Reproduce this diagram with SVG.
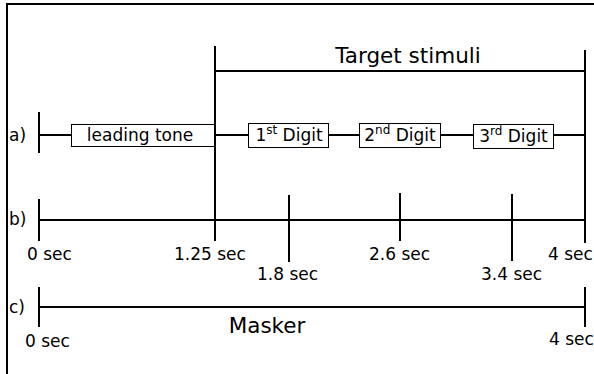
<svg xmlns="http://www.w3.org/2000/svg" width="594" height="374" viewBox="0 0 594 374">
  <style>
    text { font-family: "DejaVu Sans", Verdana, sans-serif; fill: #000; }
    .lbl { font-size: 17px; }
    .big { font-size: 21.5px; }
    .sup { font-size: 12px; }
    .ln { stroke: #000; stroke-width: 2; fill: none; }
    .box { fill: #fff; stroke: #000; stroke-width: 1; }
  </style>
  <rect width="594" height="374" fill="#fff"/>
  <!-- frame (open to the right and bottom) -->
  <rect x="7" y="4" width="600" height="400" fill="none" stroke="#000" stroke-width="2"/>

  <g id="connectors">
    <!-- row a -->
    <line class="ln" x1="39" y1="112" x2="39" y2="153"/>
    <line class="ln" x1="39" y1="135" x2="585" y2="135"/>
    <!-- target span -->
    <line class="ln" x1="215" y1="46" x2="215" y2="241"/>
    <line class="ln" x1="585" y1="50" x2="585" y2="243"/>
    <line class="ln" x1="215" y1="71" x2="585" y2="71"/>
    <!-- row b -->
    <line class="ln" x1="39" y1="220" x2="585" y2="220"/>
    <line class="ln" x1="39" y1="199" x2="39" y2="241"/>
    <line class="ln" x1="289" y1="195" x2="289" y2="262"/>
    <line class="ln" x1="400" y1="193" x2="400" y2="241"/>
    <line class="ln" x1="512" y1="194" x2="512" y2="261"/>
    <!-- row c -->
    <line class="ln" x1="39" y1="307" x2="585" y2="307"/>
    <line class="ln" x1="39" y1="287" x2="39" y2="327"/>
    <line class="ln" x1="585" y1="287" x2="585" y2="327"/>
  </g>

  <g id="target-stimuli">
    <text class="big" x="408" y="63" text-anchor="middle">Target stimuli</text>
  </g>

  <g id="row-labels">
    <text class="lbl" x="9" y="141">a)</text>
    <text class="lbl" x="9" y="225">b)</text>
    <text class="lbl" x="9" y="313">c)</text>
  </g>

  <g id="leading-tone">
    <rect class="box" x="71.5" y="124.5" width="143" height="22"/>
    <text class="lbl" x="140" y="141" text-anchor="middle">leading tone</text>
  </g>
  <g id="digit-1">
    <rect class="box" x="248.5" y="123.5" width="80" height="24"/>
    <text class="lbl" x="289" y="141" text-anchor="middle">1<tspan class="sup" dy="-7">st</tspan><tspan dy="7"> Digit</tspan></text>
  </g>
  <g id="digit-2">
    <rect class="box" x="359.5" y="123.5" width="81" height="24"/>
    <text class="lbl" x="400" y="141" text-anchor="middle">2<tspan class="sup" dy="-7">nd</tspan><tspan dy="7"> Digit</tspan></text>
  </g>
  <g id="digit-3">
    <rect class="box" x="473.5" y="124.5" width="80" height="24"/>
    <text class="lbl" x="513.5" y="142" text-anchor="middle">3<tspan class="sup" dy="-7">rd</tspan><tspan dy="7"> Digit</tspan></text>
  </g>

  <g id="time-labels">
    <text class="lbl" x="27" y="260">0 sec</text>
    <text class="lbl" x="174" y="260">1.25 sec</text>
    <text class="lbl" x="257" y="280">1.8 sec</text>
    <text class="lbl" x="369" y="260">2.6 sec</text>
    <text class="lbl" x="481" y="280">3.4 sec</text>
    <text class="lbl" x="548" y="260">4 sec</text>
    <text class="lbl" x="25" y="347">0 sec</text>
    <text class="lbl" x="549" y="345">4 sec</text>
  </g>

  <g id="masker">
    <text class="big" x="267" y="333" text-anchor="middle">Masker</text>
  </g>
</svg>
